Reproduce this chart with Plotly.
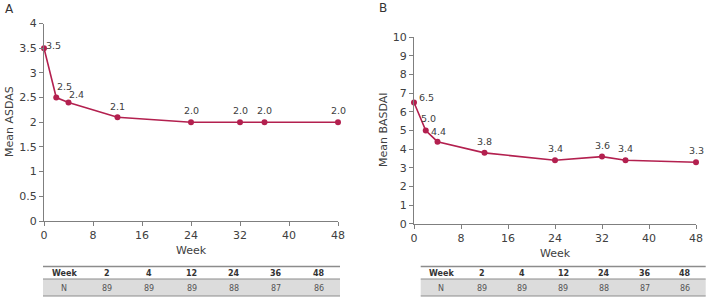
import plotly.graph_objects as go

# ---- data ----
weeks = [0, 2, 4, 12, 24, 32, 36, 48]
asdas = [3.5, 2.5, 2.4, 2.1, 2.0, 2.0, 2.0, 2.0]
basdai = [6.5, 5.0, 4.4, 3.8, 3.4, 3.6, 3.4, 3.3]
table_weeks = ["2", "4", "12", "24", "36", "48"]
table_n = [89, 89, 89, 88, 87, 86]
x_ticks = [0, 8, 16, 24, 32, 40, 48]

# label offsets in pixels (style only)
offA = [(9, -3), (8, -11), (8, -8), (0, -11), (0, -12), (0, -12), (0, -12), (0, -12)]
offB = [(12, -5), (3, -12), (1, -10), (0, -11), (0, -12), (0, -11), (0, -12), (0, -12)]

W, H = 708, 298
LINE = "#B3204F"
TXT = "#404040"
FONT = "DejaVu Sans"

def px(x):
    return x / W

def py(y):
    return 1 - y / H

fig = go.Figure()
fig.add_trace(go.Scatter(x=weeks, y=asdas, mode="lines+markers",
                         line=dict(color=LINE, width=1.6), marker=dict(size=6, color=LINE),
                         xaxis="x", yaxis="y", showlegend=False, cliponaxis=False))
fig.add_trace(go.Scatter(x=weeks, y=basdai, mode="lines+markers",
                         line=dict(color=LINE, width=1.6), marker=dict(size=6, color=LINE),
                         xaxis="x2", yaxis="y2", showlegend=False, cliponaxis=False))

axis_common = dict(showgrid=False, zeroline=False, showline=True, linecolor="#7f7f7f",
                   linewidth=1, ticks="outside", ticklen=4, tickcolor="#7f7f7f", automargin=False,
                   tickfont=dict(size=11, color=TXT, family=FONT))

fig.update_layout(
    width=W, height=H, margin=dict(l=0, r=0, t=0, b=0),
    paper_bgcolor="white", plot_bgcolor="white",
    font=dict(family=FONT, color=TXT),
    xaxis=dict(domain=[px(44), px(338)], range=[0, 48], tickvals=x_ticks, anchor="y", **axis_common),
    yaxis=dict(domain=[py(221), py(23.5)], range=[0, 4], tickvals=[0, 0.5, 1, 1.5, 2, 2.5, 3, 3.5, 4],
               ticktext=["0", "0.5", "1", "1.5", "2", "2.5", "3", "3.5", "4"], anchor="x", **axis_common),
    xaxis2=dict(domain=[px(414), px(696)], range=[0, 48], tickvals=x_ticks, anchor="y2", **axis_common),
    yaxis2=dict(domain=[py(223.7), py(37.3)], range=[0, 10], tickvals=list(range(0, 11)), anchor="x2", **axis_common),
)

ann = []
shapes = []

# data labels
for xs, ys, offs, xr, yr in [(weeks, asdas, offA, "x", "y"), (weeks, basdai, offB, "x2", "y2")]:
    for xv, yv, (dx, dy) in zip(xs, ys, offs):
        ann.append(dict(xref=xr, yref=yr, x=xv, y=yv, text=f"{yv:.1f}", showarrow=False,
                        xanchor="center", yanchor="middle", xshift=dx, yshift=-dy,
                        font=dict(size=9.5, color=TXT, family=FONT)))

def A(x, y, text, size=11, color=TXT, xanchor="center", **kw):
    d = dict(xref="paper", yref="paper", x=px(x), y=py(y), text=text, showarrow=False,
             xanchor=xanchor, yanchor="middle",
             font=dict(size=size, color=color, family=FONT))
    d.update(kw)
    ann.append(d)

# panel letters, axis titles
A(3, 9, "A", size=12, color="#333", xanchor="left")
A(377, 8, "B", size=12, color="#333", xanchor="left")
A(10, 122, "Mean ASDAS", textangle=-90)
A(384, 130, "Mean BASDAI", textangle=-90)
A(191, 250, "Week")
A(555, 253, "Week")

# tables
for left, right in [(43, 340), (420.7, 705.7)]:
    width = right - left
    shapes.append(dict(type="rect", xref="paper", yref="paper", x0=px(left), x1=px(right),
                       y0=py(296), y1=py(279), fillcolor="#dcdcdc", line=dict(width=0), layer="below"))
    for yy, lw in [(266.5, 1.5), (279, 1.2), (296, 1.2)]:
        shapes.append(dict(type="line", xref="paper", yref="paper", x0=px(left), x1=px(right),
                           y0=py(yy), y1=py(yy), line=dict(color="#8c8c8c", width=lw)))
    headers = ["Week"] + table_weeks
    row = ["N"] + [str(v) for v in table_n]
    for i in range(7):
        cx = left + width * (i + 0.5) / 7
        A(cx, 273.5, f"<b>{headers[i]}</b>", size=8, color="#333")
        A(cx, 288, row[i], size=8, color="#555")

fig.update_layout(annotations=ann, shapes=shapes)
fig.write_html("out.html", config={"displayModeBar": False},
               post_script="document.body.style.margin='0';document.body.style.overflow='hidden';")
